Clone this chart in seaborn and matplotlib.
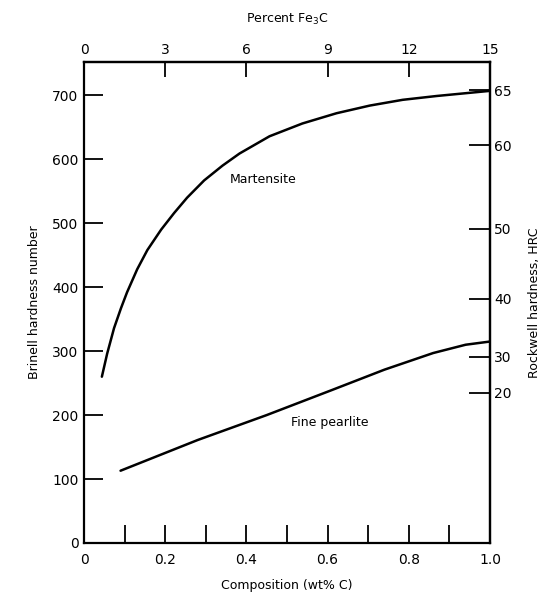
import matplotlib
matplotlib.use('Agg')
import matplotlib.pyplot as plt
import seaborn as sns
import pandas as pd

# Martensite curve (wt% C, Brinell)
mart_c = [0.044, 0.057, 0.074, 0.091, 0.106, 0.131, 0.156, 0.19, 0.222, 0.254, 0.296,
          0.341, 0.383, 0.457, 0.538, 0.622, 0.704, 0.785, 0.869, 0.951, 1.0]
mart_hb = [260, 296, 336, 367, 392, 428, 458, 490, 516, 540, 567,
           590, 609, 636, 656, 672, 684, 693, 699, 704, 707]

# Fine pearlite curve
pearl_c = [0.09, 0.28, 0.45, 0.61, 0.74, 0.86, 0.94, 1.0]
pearl_hb = [113, 161, 200, 239, 271, 297, 310, 315]

# right axis: Rockwell HRC marks placed at equivalent Brinell values
hrc_labels = ['65', '60', '50', '40', '30', '20']
hrc_hb = [708, 622, 491, 382, 291, 235]

brinell_ticks = [0, 100, 200, 300, 400, 500, 600, 700]
comp_ticks = [0, 0.1, 0.2, 0.3, 0.4, 0.5, 0.6, 0.7, 0.8, 0.9, 1.0]
comp_labels = ['0', '', '0.2', '', '0.4', '', '0.6', '', '0.8', '', '1.0']
fe3c_ticks = [0, 3, 6, 9, 12, 15]

sns.set_style('ticks')
plt.rcParams['font.family'] = ['DejaVu Sans']
plt.rcParams['text.color'] = 'black'
plt.rcParams['axes.labelcolor'] = 'black'
plt.rcParams['xtick.color'] = 'black'
plt.rcParams['ytick.color'] = 'black'

fig = plt.figure(figsize=(5.42, 5.97), dpi=100)
ax = fig.add_axes([0.155, 0.0905, 0.749, 0.8055])

df_m = pd.DataFrame({'c': mart_c, 'hb': mart_hb})
df_p = pd.DataFrame({'c': pearl_c, 'hb': pearl_hb})
sns.lineplot(data=df_m, x='c', y='hb', ax=ax, color='black', lw=1.8)
sns.lineplot(data=df_p, x='c', y='hb', ax=ax, color='black', lw=1.8)

ax.set_xlim(0, 1.0)
ax.set_ylim(0, 752)

# bottom axis: inward ticks every 0.1, labels every 0.2
ax.set_xticks(comp_ticks, labels=comp_labels)
ax.tick_params(axis='x', direction='in', length=13, width=1.3, labelsize=10, pad=7)
ax.set_xlabel('Composition (wt% C)', fontsize=9, labelpad=9)

ax.set_yticks(brinell_ticks)
ax.tick_params(axis='y', direction='in', length=14, width=1.3, labelsize=10, pad=4)
ax.set_ylabel('Brinell hardness number', fontsize=9, labelpad=8)

# top axis: percent Fe3C
top = ax.secondary_xaxis('top', functions=(lambda x: x * 15, lambda x: x / 15))
top.set_xticks(fe3c_ticks)
top.tick_params(direction='in', length=11, width=1.3, labelsize=10, pad=4)
top.set_xlabel('Percent Fe$_3$C', fontsize=9, labelpad=14)

# right axis: Rockwell
right = ax.secondary_yaxis('right', functions=(lambda y: y, lambda y: y))
right.set_yticks(hrc_hb, labels=hrc_labels)
right.tick_params(direction='in', length=15, width=1.3, labelsize=10, pad=3)
right.set_ylabel('Rockwell hardness, HRC', fontsize=9, labelpad=12)

for sp in ax.spines.values():
    sp.set_visible(True)
    sp.set_linewidth(1.6)
    sp.set_color('black')
for s in list(top.spines.values()) + list(right.spines.values()):
    s.set_linewidth(1.6)
    s.set_color('black')

ax.text(0.44, 568, 'Martensite', fontsize=9, ha='center', va='center')
ax.text(0.605, 188, 'Fine pearlite', fontsize=9, ha='center', va='center')

fig.savefig('out.png', dpi=100)
